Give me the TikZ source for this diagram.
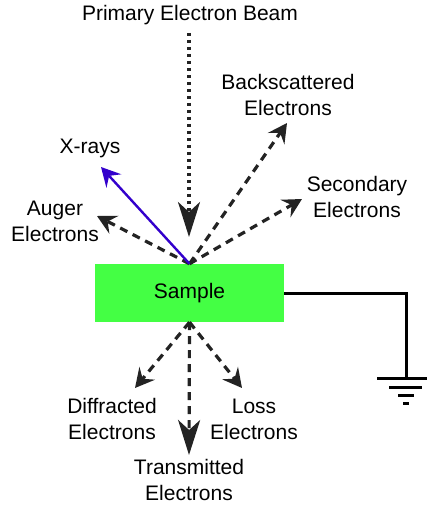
\documentclass[tikz,border=0pt]{standalone}
\usepackage{fontspec}
\setmainfont{Liberation Sans}
\usetikzlibrary{arrows.meta}
\definecolor{samplegreen}{RGB}{68,255,68}
\definecolor{xrayblue}{RGB}{51,0,204}
\definecolor{dashgray}{RGB}{35,35,35}

\begin{document}
\begin{tikzpicture}[x=1pt,y=-1pt,
    lbl/.style={align=center,inner sep=0pt,font=\fontsize{21}{26}\selectfont},
    emit/.style={draw=dashgray,line width=3.2pt,dash pattern=on 8pt off 6pt,
        -{Stealth[length=19pt,width=20pt,inset=7pt]}},
    bigtip/.style={-{Stealth[length=35pt,width=22pt,inset=10pt]}},
    beam/.style={draw=dashgray,line width=3.2pt,dash pattern=on 3pt off 4pt,bigtip}]
    \useasboundingbox (0,0) rectangle (427,505);

    \node[fill=samplegreen,minimum width=189pt,minimum height=58pt,inner sep=0pt,
        font=\fontsize{21}{26}\selectfont] (sample) at (189.5,293) {Sample};

    \node[lbl] (primary) at (190,15) {Primary Electron Beam};
    \node[lbl] (back) at (288,95) {Backscattered\\Electrons};
    \node[lbl] (second) at (357,197) {Secondary\\Electrons};
    \node[lbl] (xray) at (90,148) {X-rays};
    \node[lbl] (auger) at (55,221) {Auger\\Electrons};
    \node[lbl] (diffr) at (112,419) {Diffracted\\Electrons};
    \node[lbl] (loss) at (254,419) {Loss\\Electrons};
    \node[lbl] (trans) at (189,480) {Transmitted\\Electrons};

    \coordinate (beamstart) at (189,33);
    \coordinate (beamtip) at (189,237);
    \coordinate (backtip) at (287,123);
    \coordinate (secondtip) at (302,199);
    \coordinate (xraytip) at (101,167);
    \coordinate (augertip) at (97,216);
    \coordinate (diffrtip) at (135,388);
    \coordinate (losstip) at (242,388);
    \coordinate (transtip) at (189,455);
    \coordinate (gnd) at (406,378);

    \draw[beam] (beamstart) -- (beamtip);
    \draw[emit] (sample.north) -- (backtip);
    \draw[emit] (sample.north) -- (secondtip);
    \draw[emit] (sample.north) -- (augertip);
    \draw[xrayblue,line width=2.4pt,-{Stealth[length=19pt,width=20pt,inset=7pt]}]
        (sample.north) -- (xraytip);

    \draw[emit] (sample.south) -- (diffrtip);
    \draw[emit] (sample.south) -- (losstip);
    \draw[emit,bigtip] (sample.south) -- (transtip);

    \draw[line width=3pt] (sample.east) -| (gnd);
    \draw[line width=3pt] (377,378) -- (427,378)
        (389,387) -- (422,387)
        (398,395) -- (414,395)
        (403,403) -- (409,403);
\end{tikzpicture}
\end{document}
